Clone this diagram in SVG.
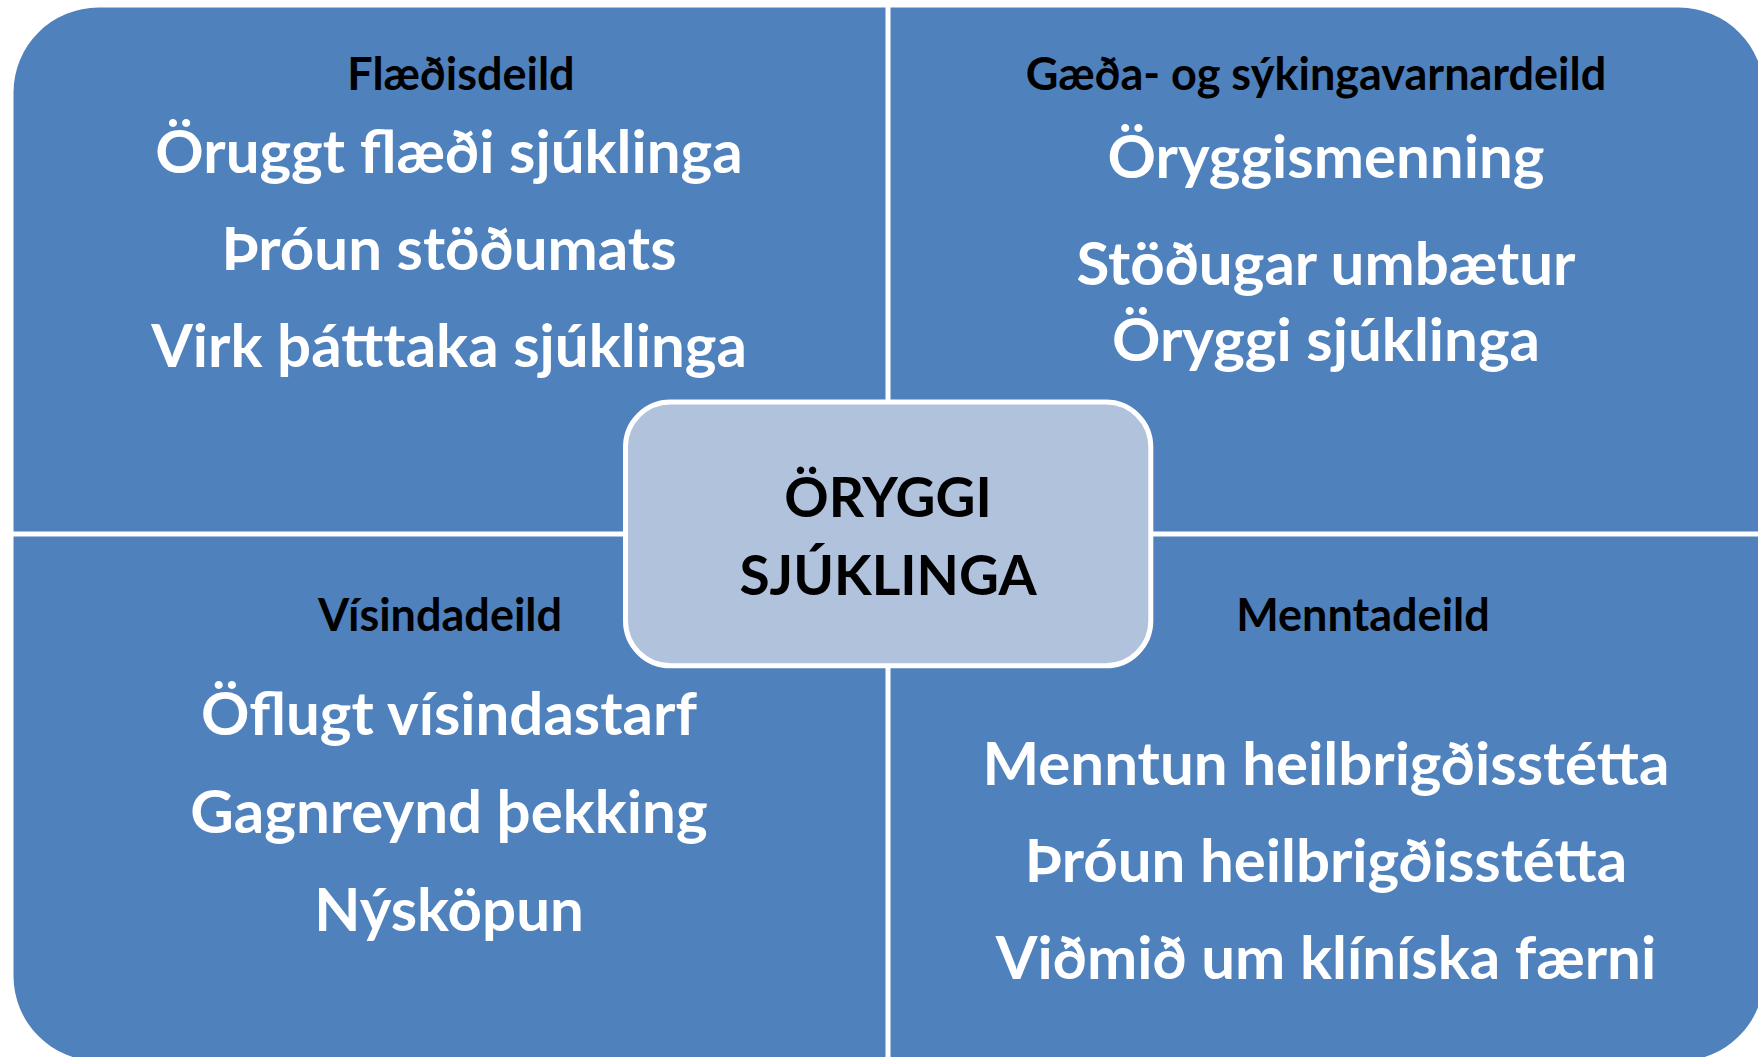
<svg xmlns="http://www.w3.org/2000/svg" width="1758" height="1057" viewBox="0 0 1758 1057">
<style>
.q{fill:#4F81BD}
.h{font-family:Lato,"Liberation Sans",sans-serif;font-weight:700;font-size:45px;fill:#000;text-anchor:middle}
.t{font-family:Lato,"Liberation Sans",sans-serif;font-weight:700;font-size:60px;fill:#fff;text-anchor:middle}
.c{font-family:Lato,"Liberation Sans",sans-serif;font-weight:700;font-size:55px;fill:#000;text-anchor:middle}
</style>
<rect width="1758" height="1057" fill="#fff"/>
<g id="q-flaedisdeild">
<path class="q" d="M13.5,92.5 A85,85 0 0 1 98.5,7.5 H885.5 V531.5 H13.5 Z"/>
<text class="h" x="461" y="90">Flæðisdeild</text>
<text class="t" x="449" y="173">Öruggt flæði sjúklinga</text>
<text class="t" x="449" y="270">Þróun stöðumats</text>
<text class="t" x="449" y="367">Virk þátttaka sjúklinga</text>
</g>
<g id="q-gaedadeild">
<path class="q" d="M890.5,7.5 H1679 A85,85 0 0 1 1764,92.5 V531.5 H890.5 Z"/>
<text class="h" x="1316" y="90">Gæða- og sýkingavarnardeild</text>
<text class="t" x="1326" y="178">Öryggismenning</text>
<text class="t" x="1326" y="285">Stöðugar umbætur</text>
<text class="t" x="1326" y="361">Öryggi sjúklinga</text>
</g>
<g id="q-visindadeild">
<path class="q" d="M13.5,536.5 H885.5 V1061 H98.5 A85,85 0 0 1 13.5,976 Z"/>
<text class="h" x="440" y="631">Vísindadeild</text>
<text class="t" x="449" y="735">Öflugt vísindastarf</text>
<text class="t" x="449" y="833">Gagnreynd þekking</text>
<text class="t" x="449" y="931">Nýsköpun</text>
</g>
<g id="q-menntadeild">
<path class="q" d="M890.5,536.5 H1764 V976 A85,85 0 0 1 1679,1061 H890.5 Z"/>
<text class="h" x="1363" y="631">Menntadeild</text>
<text class="t" x="1326" y="785">Menntun heilbrigðisstétta</text>
<text class="t" x="1326" y="882">Þróun heilbrigðisstétta</text>
<text class="t" x="1326" y="979">Viðmið um klíníska færni</text>
</g>
<g id="connectors"></g>
<g id="center">
<rect x="625.5" y="402" width="525.3" height="263.8" rx="45" fill="#B1C2DD" stroke="#fff" stroke-width="5"/>
<text class="c" x="888" y="517">ÖRYGGI</text>
<text class="c" x="888" y="595">SJÚKLINGA</text>
</g>
</svg>
